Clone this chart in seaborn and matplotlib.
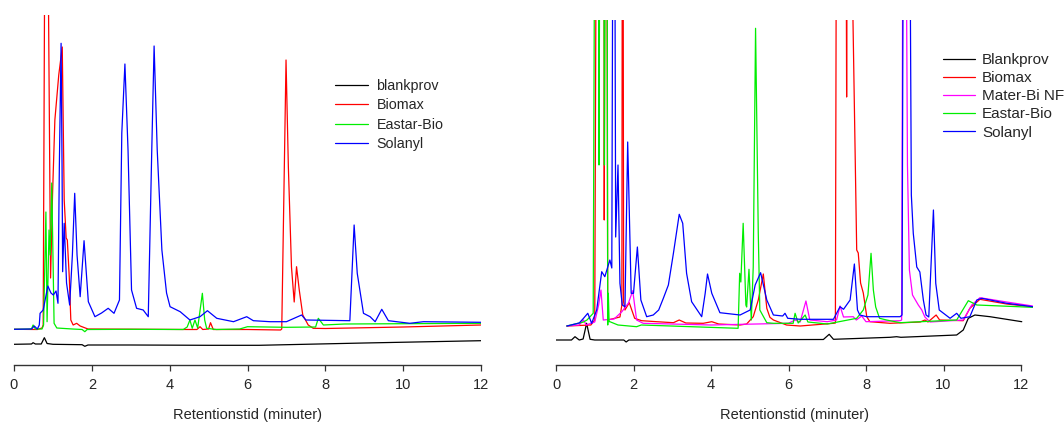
import matplotlib
matplotlib.use("Agg")
import matplotlib.pyplot as plt
from matplotlib.lines import Line2D
import numpy as np
import pandas as pd
import seaborn as sns

# ---------------- data: (retention time [min], detector signal [a.u.]) ----------------
# Left chromatogram
L_blankprov = [(0, 20.7), (0.45, 21), (0.49, 22.3), (0.55, 21), (0.7, 21), (0.78, 27.3), (0.85, 21.5),
               (1.0, 20.7), (1.75, 20.3), (1.82, 18.7), (1.9, 20), (3.0, 20), (5.0, 19.7), (6.3, 19.7),
               (7.0, 20.3), (9.0, 22), (12.0, 24.3)]
L_biomax = [(0, 35.7), (0.6, 35.5), (0.72, 37), (0.75, 40), (0.82, 700), (0.94, 87), (0.99, 170),
            (1.05, 245), (1.15, 290), (1.24, 318), (1.29, 165), (1.34, 127), (1.37, 125), (1.42, 88),
            (1.46, 45), (1.52, 40), (1.61, 41.7), (1.70, 39), (1.9, 36), (4.5, 35.5), (4.7, 35.5),
            (4.78, 38.3), (4.85, 35.5), (5.0, 36), (5.05, 42.3), (5.12, 35.5), (6.0, 35.5), (6.85, 35),
            (6.88, 36), (6.99, 305), (7.05, 198), (7.13, 98), (7.20, 63), (7.26, 98.3), (7.33, 75),
            (7.42, 50), (7.56, 40), (7.69, 36.7), (8.0, 36.5), (10.0, 38), (12.0, 40)]
L_eastar = [(0, 35.7), (0.45, 36), (0.49, 40), (0.55, 36), (0.72, 36), (0.76, 40), (0.82, 153),
            (0.85, 43.3), (0.90, 135), (0.93, 110), (0.97, 182), (1.03, 41.7), (1.1, 37), (1.5, 36),
            (1.75, 35.5), (1.82, 33.3), (1.88, 35.5), (3.0, 35.7), (4.35, 35.5), (4.45, 38), (4.52, 45),
            (4.58, 36.7), (4.65, 45), (4.72, 37), (4.84, 71.7), (4.9, 45), (4.95, 36.7), (5.2, 35.5),
            (5.8, 36), (6.0, 38.3), (7.0, 37.7), (7.75, 38), (7.82, 46.7), (7.95, 40), (8.5, 41),
            (12.0, 41.7)]
L_solanyl = [(0, 35.7), (0.45, 36), (0.52, 39), (0.6, 36), (0.65, 40), (0.67, 51.7), (0.75, 55),
             (0.87, 79), (0.95, 72), (1.01, 70), (1.08, 74), (1.13, 61.7), (1.165, 198), (1.21, 321.7),
             (1.235, 198), (1.25, 93.3), (1.29, 141.7), (1.35, 82), (1.43, 60), (1.50, 110),
             (1.56, 171.7), (1.62, 110), (1.70, 68.3), (1.80, 124.3), (1.91, 63.3), (2.08, 48.3),
             (2.25, 52), (2.42, 56.7), (2.57, 51.7), (2.71, 65), (2.77, 232), (2.85, 301), (2.93, 215),
             (3.02, 75), (3.15, 56.7), (3.32, 55), (3.45, 48.3), (3.54, 215), (3.60, 319), (3.68, 215),
             (3.80, 115), (3.92, 72), (4.01, 58.3), (4.27, 53.3), (4.52, 45), (4.78, 48.3), (4.97, 54.3),
             (5.21, 46.7), (5.64, 43.3), (5.98, 48.3), (6.15, 44.3), (6.58, 43.3), (7.0, 43.3),
             (7.39, 50), (7.5, 45), (8.63, 44.3), (8.74, 140), (8.82, 91.7), (8.98, 51.7), (9.15, 48.3),
             (9.28, 43.3), (9.45, 55.7), (9.62, 44.3), (10.17, 41.7), (10.52, 43.3), (12.0, 42.7)]

# Right chromatogram
R_blankprov = [(0, 25), (0.4, 25), (0.49, 28.3), (0.6, 25), (0.7, 26), (0.79, 41.7), (0.88, 25.7),
               (1.0, 25), (1.75, 25), (1.81, 23), (1.88, 25), (6.9, 25.5), (7.05, 30.7), (7.16, 25.7),
               (8.62, 27.7), (8.79, 28.3), (8.9, 27.7), (10.34, 30), (10.51, 35), (10.64, 46.7),
               (10.81, 50), (11.2, 48.3), (12.02, 43.3)]
R_biomax = [(0.28, 39), (0.9, 40), (1.0, 45), (1.06, 700), (1.2, 700), (1.235, 600), (1.245, 145),
            (1.28, 700), (1.30, 700), (1.335, 45), (1.65, 48), (1.70, 60), (1.72, 800), (1.745, 63),
            (1.78, 55), (1.89, 62.3), (2.03, 46.7), (2.21, 44.3), (2.6, 43.3), (3.03, 42.3), (3.18, 45),
            (3.35, 42), (3.8, 41.7), (4.02, 43.3), (4.2, 41), (4.75, 40), (4.92, 41), (5.09, 48.3),
            (5.22, 65), (5.35, 91), (5.44, 56.7), (5.52, 47.7), (5.61, 45), (5.95, 40), (6.30, 39),
            (7.16, 41.7), (7.21, 42), (7.25, 700), (7.47, 700), (7.50, 268), (7.53, 700), (7.62, 450),
            (7.76, 115), (7.80, 112), (7.86, 82), (7.93, 72), (8.02, 48.3), (8.1, 43.3), (8.62, 41.7),
            (9.4, 43), (9.52, 45), (9.6, 43), (9.81, 50), (9.9, 45), (10.51, 44.3), (10.68, 56.7),
            (10.94, 65.7), (11.63, 61), (12.3, 58.3)]
R_materbi = [(0.28, 39), (0.6, 40), (0.71, 45), (0.78, 40), (1.0, 43), (1.1, 60), (1.16, 75),
             (1.22, 45), (1.5, 46), (1.70, 53.3), (1.87, 62), (1.98, 74.3), (2.08, 45), (2.25, 41.7),
             (4.0, 40), (6.0, 41.7), (6.17, 45), (6.3, 43), (6.45, 64), (6.55, 45), (7.0, 43.3),
             (7.24, 45), (7.33, 59), (7.42, 48), (7.67, 48.3), (7.75, 45), (7.89, 49), (8.0, 43.3),
             (8.88, 44.3), (8.92, 45), (8.97, 700), (9.0, 700), (9.07, 200), (9.12, 95), (9.20, 70),
             (9.35, 60), (9.44, 55), (9.52, 48), (9.65, 43), (10.51, 45), (10.73, 60), (10.94, 67.3),
             (11.63, 63), (12.3, 59)]
R_eastar = [(0.28, 39), (0.71, 43), (0.8, 45), (0.96, 51.7), (1.02, 700), (1.08, 700), (1.11, 200),
            (1.15, 700), (1.22, 700), (1.25, 200), (1.29, 700), (1.31, 700), (1.335, 40), (1.35, 71.7),
            (1.37, 43.3), (1.39, 43.3), (1.6, 40), (2.08, 38.3), (2.2, 40), (4.70, 36.7), (4.74, 91.7),
            (4.77, 83), (4.83, 141.7), (4.90, 60), (4.92, 58), (4.98, 95.7), (5.04, 45), (5.09, 98),
            (5.15, 336.7), (5.22, 131.7), (5.26, 55), (5.44, 42.3), (5.61, 41.7), (6.12, 41.7),
            (6.17, 51.7), (6.25, 42), (6.43, 50), (6.5, 43), (7.0, 41), (7.76, 46.7), (7.93, 55),
            (8.05, 70), (8.13, 111.7), (8.19, 75), (8.25, 58), (8.35, 46.7), (8.53, 45), (8.88, 42.3),
            (10.34, 45), (10.64, 64.3), (10.86, 60), (12.3, 57.7)]
R_solanyl = [(0.28, 39), (0.6, 42), (0.71, 46.7), (0.82, 51.7), (0.92, 41.7), (1.05, 55), (1.18, 93.3),
             (1.26, 88.3), (1.39, 105), (1.44, 97), (1.485, 700), (1.50, 700), (1.54, 128), (1.60, 200),
             (1.65, 81.7), (1.71, 60), (1.78, 58.3), (1.85, 223), (1.94, 71.7), (2.0, 71.7), (2.10, 118),
             (2.19, 65), (2.34, 48.3), (2.51, 50), (2.65, 55), (2.77, 66.7), (2.9, 80), (3.03, 111.7),
             (3.18, 150.7), (3.27, 141.7), (3.37, 91.7), (3.50, 63.3), (3.76, 48.3), (3.85, 71.7),
             (3.91, 91), (4.02, 71.7), (4.23, 52.3), (4.75, 50), (5.01, 55), (5.14, 80), (5.28, 92.3),
             (5.44, 65), (5.61, 50), (5.85, 49), (5.91, 51.7), (5.98, 46.7), (6.30, 45.7), (7.16, 45.7),
             (7.33, 58.3), (7.42, 55.7), (7.59, 65), (7.70, 101), (7.78, 55), (7.84, 50), (8.02, 48.3),
             (8.88, 48.3), (8.93, 50), (8.98, 700), (9.10, 700), (9.17, 170), (9.22, 131.7), (9.31, 98),
             (9.39, 93), (9.48, 65), (9.55, 50), (9.62, 48), (9.74, 155), (9.80, 81.7), (9.89, 55),
             (10.17, 46.7), (10.34, 51.7), (10.45, 46.7), (10.68, 48.3), (10.86, 65), (10.99, 66.7),
             (11.63, 61.7), (12.3, 58.3)]

left_names = ["blankprov", "Biomax", "Eastar-Bio", "Solanyl"]
left_traces = [L_blankprov, L_biomax, L_eastar, L_solanyl]
left_colors = ["#000000", "#ff0000", "#00ee00", "#0000ff"]

right_names = ["Blankprov", "Biomax", "Mater-Bi NF", "Eastar-Bio", "Solanyl"]
right_traces = [R_blankprov, R_biomax, R_materbi, R_eastar, R_solanyl]
right_colors = ["#000000", "#ff0000", "#ff00ff", "#00ee00", "#0000ff"]

xticks = [0, 2, 4, 6, 8, 10, 12]
xlabel = "Retentionstid (minuter)"


def to_frame(names, traces):
    rows = []
    for name, tr in zip(names, traces):
        for i, (t, s) in enumerate(tr):
            rows.append({"sample": name, "t": t, "signal": s, "order": i})
    return pd.DataFrame(rows)


sns.set_style("white")
plt.rcParams["font.family"] = ["Liberation Sans", "DejaVu Sans"]

W, H = 1064, 423
fig = plt.figure(figsize=(W / 100, H / 100), dpi=100)

ax_base = 365  # pixel row of the axis line
# left panel
axL = fig.add_axes([14 / W, (H - ax_base) / H, 467 / W, 350 / H])
# right panel
axR = fig.add_axes([556 / W, (H - ax_base) / H, 12.3 * 38.75 / W, 344.5 / H])

lw = 0.9
for ax, names, traces, colors, xlim, ylim in [
    (axL, left_names, left_traces, left_colors, (0, 12), (0, 350)),
    (axR, right_names, right_traces, right_colors, (0, 12.3), (0, 344.5)),
]:
    df = to_frame(names, traces)
    sns.lineplot(data=df, x="t", y="signal", hue="sample", hue_order=names,
                 palette=dict(zip(names, colors)), sort=False, estimator=None,
                 linewidth=lw, legend=False, ax=ax)
    ax.set_xlim(*xlim)
    ax.set_ylim(*ylim)
    for s in ["left", "top", "right"]:
        ax.spines[s].set_visible(False)
    ax.spines["bottom"].set_bounds(0, 12)
    ax.spines["bottom"].set_linewidth(1.0)
    ax.spines["bottom"].set_color("#333333")
    ax.set_yticks([])
    ax.set_ylabel("")
    ax.set_xticks(xticks)
    ax.set_xticklabels([str(v) for v in xticks])
    ax.tick_params(axis="x", direction="out", length=4, width=0.9, color="#333333",
                   labelsize=10.5, pad=5, bottom=True)
    ax.set_xlabel(xlabel, fontsize=10.5, labelpad=12)
    ax.patch.set_alpha(0)

# legends
handlesL = [Line2D([], [], color=c, lw=lw) for c in left_colors]
axL.legend(handlesL, left_names, loc="upper left", bbox_to_anchor=(335 / W, 1 - 79 / H),
           bbox_transform=fig.transFigure, frameon=False, fontsize=10.3, handlelength=2.3,
           handletextpad=0.6, labelspacing=0.38, borderpad=0, borderaxespad=0)
handlesR = [Line2D([], [], color=c, lw=lw) for c in right_colors]
axR.legend(handlesR, right_names, loc="upper left", bbox_to_anchor=(943 / W, 1 - 53 / H),
           bbox_transform=fig.transFigure, frameon=False, fontsize=11, handlelength=2.1,
           handletextpad=0.45, labelspacing=0.27, borderpad=0, borderaxespad=0)

fig.savefig("out.png", dpi=100, facecolor="white")
